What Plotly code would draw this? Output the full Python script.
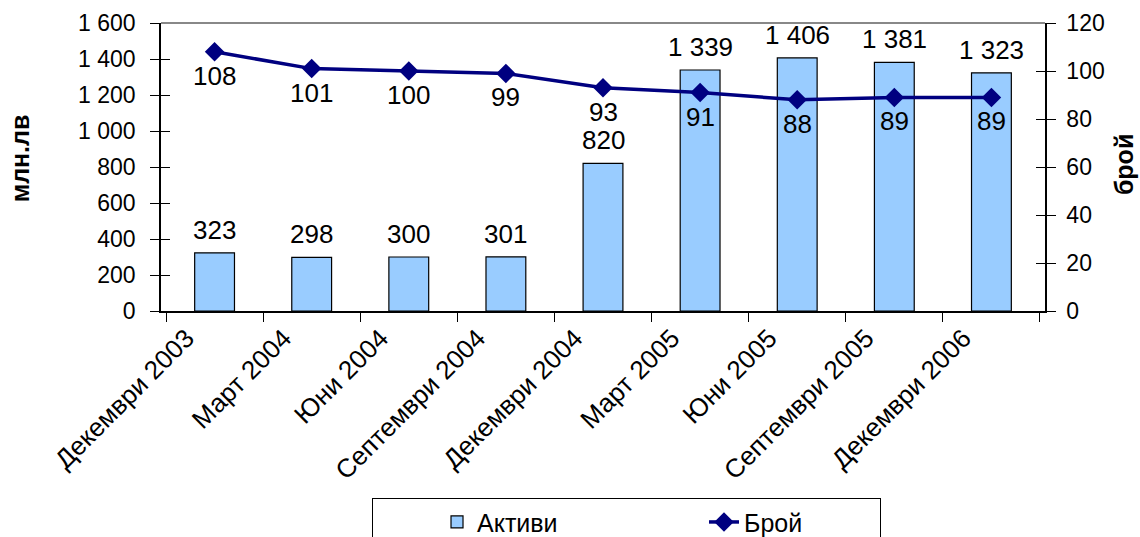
import plotly.graph_objects as go

# Quarterly data
categories = ["Декември 2003", "Март 2004", "Юни 2004", "Септември 2004",
              "Декември 2004", "Март 2005", "Юни 2005", "Септември 2005",
              "Декември 2006"]
assets = [323, 298, 300, 301, 820, 1339, 1406, 1381, 1323]   # млн.лв
count = [108, 101, 100, 99, 93, 91, 88, 89, 89]               # брой

FONT = "Liberation Sans, Arial, sans-serif"
BAR_FILL = "#99CCFF"
LINE_COL = "#000080"

fig = go.Figure()

fig.add_trace(go.Bar(
    x=categories, y=assets, name="Активи",
    marker=dict(color=BAR_FILL, line=dict(color="black", width=1.2)),
    width=0.41, legendwidth=158,
))

fig.add_trace(go.Scatter(
    x=categories, y=count, name="Брой", yaxis="y2",
    mode="lines+markers",
    line=dict(color=LINE_COL, width=3.5),
    marker=dict(symbol="diamond", size=15, color=LINE_COL),
    legendwidth=131,
))

# invisible helpers so the inner half of the crossing ticks is drawn
fig.add_trace(go.Scatter(x=categories, y=assets, yaxis="y3", mode="none",
                         showlegend=False, hoverinfo="skip"))
fig.add_trace(go.Scatter(x=categories, y=count, yaxis="y4", mode="none",
                         showlegend=False, hoverinfo="skip"))

annotations = []
# value labels above bars
for c, v in zip(categories, assets):
    annotations.append(dict(
        x=c, y=v, xref="x", yref="y", text=f"{v:,}".replace(",", " "),
        showarrow=False, yanchor="bottom", yshift=6,
        font=dict(family=FONT, size=26, color="black")))
# value labels below line points
for c, v in zip(categories, count):
    annotations.append(dict(
        x=c, y=v, xref="x", yref="y2", text=str(v),
        showarrow=False, yanchor="top", yshift=-7,
        font=dict(family=FONT, size=26, color="black")))
# axis titles
annotations.append(dict(
    x=-0.1595, y=0.53, xref="paper", yref="paper", text="<b>млн.лв</b>",
    textangle=-90, showarrow=False, xanchor="center", yanchor="middle",
    font=dict(family=FONT, size=25, color="black")))
annotations.append(dict(
    x=1.0895, y=0.507, xref="paper", yref="paper", text="<b>брой</b>",
    textangle=-90, showarrow=False, xanchor="center", yanchor="middle",
    font=dict(family=FONT, size=25, color="black")))

axis_common = dict(showgrid=False, zeroline=False, tickcolor="black",
                   ticklen=9, tickwidth=1.2)

fig.update_layout(
    width=1140, height=537,
    margin=dict(l=161, r=95, t=23, b=226, autoexpand=False),
    paper_bgcolor="white", plot_bgcolor="white",
    separators=", ",
    font=dict(family=FONT, size=23, color="black"),
    bargap=0.59,
    showlegend=True,
    legend=dict(
        orientation="h", x=0.2387, xanchor="left", y=-0.65, yanchor="top",
        bordercolor="black", borderwidth=1, bgcolor="white",
        indentation=64,
        font=dict(family=FONT, size=25, color="black"),
        traceorder="normal",
    ),
    xaxis=dict(
        type="category", showline=True, linecolor="black", linewidth=1.5,
        ticks="outside", tickson="boundaries", ticklen=9, tickcolor="black",
        tickangle=-45, tickfont=dict(size=26), showgrid=False,
        ticklabelshift=-28,
    ),
    yaxis=dict(
        range=[0, 1600], dtick=200, showline=True, linecolor="black",
        linewidth=1.5, ticks="outside", separatethousands=True,
        tickfont=dict(size=23), ticklabelstandoff=10, **axis_common,
    ),
    yaxis2=dict(
        range=[0, 120], dtick=20, overlaying="y", side="right",
        showline=True, linecolor="black", linewidth=1.5, ticks="outside",
        tickfont=dict(size=23), ticklabelstandoff=6, **axis_common,
    ),
    yaxis3=dict(
        range=[0, 1600], dtick=200, overlaying="y", side="left",
        showline=False, ticks="inside", showticklabels=False, **axis_common,
    ),
    yaxis4=dict(
        range=[0, 120], dtick=20, overlaying="y", side="right",
        showline=False, ticks="inside", showticklabels=False, **axis_common,
    ),
    annotations=annotations,
    shapes=[dict(type="line", xref="paper", yref="paper", x0=0, x1=1,
                 y0=1, y1=1, line=dict(color="#888888", width=2))],
)

fig.write_html("out.html")
